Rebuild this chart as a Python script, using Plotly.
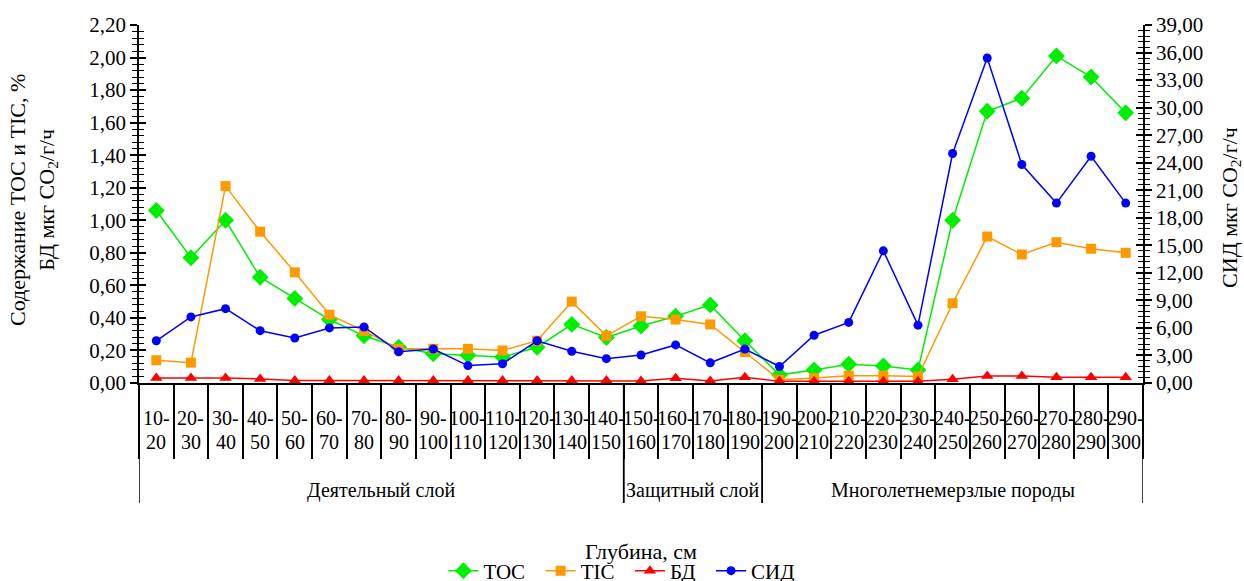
import plotly.graph_objects as go

categories = ["10-20", "20-30", "30-40", "40-50", "50-60", "60-70", "70-80", "80-90", "90-100",
              "100-110", "110-120", "120-130", "130-140", "140-150", "150-160", "160-170",
              "170-180", "180-190", "190-200", "200-210", "210-220", "220-230", "230-240",
              "240-250", "250-260", "260-270", "270-280", "280-290", "290-300"]

toc = [1.06, 0.77, 1.00, 0.65, 0.52, 0.39, 0.29, 0.22, 0.18, 0.17, 0.16, 0.22, 0.36, 0.28,
       0.35, 0.41, 0.48, 0.26, 0.05, 0.08, 0.115, 0.105, 0.08, 1.00, 1.67, 1.75, 2.01, 1.88, 1.66]
tic = [0.14, 0.125, 1.21, 0.93, 0.68, 0.42, 0.32, 0.21, 0.21, 0.21, 0.20, 0.26, 0.50, 0.29,
       0.41, 0.39, 0.36, 0.19, 0.02, 0.03, 0.045, 0.045, 0.04, 0.49, 0.90, 0.79, 0.865, 0.825, 0.80]
bd = [0.03, 0.03, 0.03, 0.025, 0.015, 0.015, 0.015, 0.015, 0.015, 0.015, 0.015, 0.015, 0.015, 0.015,
      0.013, 0.029, 0.013, 0.035, 0.01, 0.01, 0.01, 0.01, 0.01, 0.023, 0.043, 0.043, 0.035, 0.035, 0.035]
sid = [4.6, 7.2, 8.1, 5.7, 4.9, 6.0, 6.1, 3.4, 3.7, 1.9, 2.1, 4.6, 3.45, 2.65,
       3.05, 4.15, 2.2, 3.7, 1.8, 5.2, 6.6, 14.4, 6.3, 25.0, 35.4, 23.8, 19.6, 24.7, 19.6]

groups = [("Деятельный слой", 0, 13), ("Защитный слой", 14, 17), ("Многолетнемерзлые породы", 18, 28)]

FONT = "Liberation Serif"
BLACK = "#000000"
F = dict(family=FONT, size=20, color=BLACK)
FT = dict(family=FONT, size=21, color=BLACK)   # tick labels
FA = dict(family=FONT, size=22, color=BLACK)   # axis titles
FL = dict(family=FONT, size=21, color=BLACK)   # legend
PAD = "\u00a0\u00a0"

fig = go.Figure()
fig.add_trace(go.Scatter(x=categories, y=toc, name="TOC" + PAD, mode="lines+markers",
                         line=dict(color="#00EE00", width=1.5),
                         marker=dict(symbol="diamond", size=13, color="#00EE00")))
fig.add_trace(go.Scatter(x=categories, y=tic, name="TIC" + PAD, mode="lines+markers",
                         line=dict(color="#FF9900", width=1.5),
                         marker=dict(symbol="square", size=10, color="#FF9900")))
fig.add_trace(go.Scatter(x=categories, y=bd, name="БД" + PAD, mode="lines+markers",
                         line=dict(color="#FF0000", width=1.5),
                         marker=dict(symbol="triangle-up", size=11, color="#FF0000")))
fig.add_trace(go.Scatter(x=categories, y=sid, name="СИД", mode="lines+markers", yaxis="y2",
                         line=dict(color="#0000FF", width=1.5),
                         marker=dict(symbol="circle", size=9, color="#0000FF")))
# helper traces so the overlay tick axes are drawn
fig.add_trace(go.Scatter(x=categories, y=[None] * len(categories), yaxis="y3",
                         showlegend=False, hoverinfo="skip"))
fig.add_trace(go.Scatter(x=categories, y=[None] * len(categories), yaxis="y4",
                         showlegend=False, hoverinfo="skip"))

common_y = dict(showgrid=False, zeroline=False, showline=True, linecolor=BLACK, linewidth=1.5,
                tickcolor=BLACK, tickwidth=1.5, automargin=False, tickfont=FT)

fig.update_layout(
    width=1244, height=581,
    margin=dict(l=139, r=101, t=25, b=198, autoexpand=False),
    paper_bgcolor="white", plot_bgcolor="white",
    separators=", ",
    font=F,
    xaxis=dict(type="category", categoryorder="array", categoryarray=categories,
               range=[-0.5, len(categories) - 0.5], showgrid=False, zeroline=False,
               showline=True, linecolor=BLACK, linewidth=1.5, automargin=False,
               tickson="boundaries", ticks="outside", ticklen=74, tickcolor=BLACK, tickwidth=1.5,
               showticklabels=False),
    yaxis=dict(range=[0, 2.2], dtick=0.2, tickformat=".2f", ticks="outside", ticklen=7,
               minor=dict(dtick=0.04, ticks="outside", ticklen=5, tickcolor=BLACK, tickwidth=1.2),
               **common_y),
    yaxis3=dict(range=[0, 2.2], dtick=0.2, overlaying="y", side="left", ticks="inside", ticklen=7,
                showticklabels=False,
                minor=dict(dtick=0.04, ticks="inside", ticklen=5, tickcolor=BLACK, tickwidth=1.2),
                **common_y),
    yaxis2=dict(range=[0, 39], dtick=3, tickformat=".2f", overlaying="y", side="right",
                ticks="outside", ticklen=7,
                minor=dict(dtick=0.6, ticks="outside", ticklen=5, tickcolor=BLACK, tickwidth=1.2),
                **common_y),
    yaxis4=dict(range=[0, 39], dtick=3, overlaying="y", side="right", ticks="inside", ticklen=7,
                showticklabels=False,
                minor=dict(dtick=0.6, ticks="inside", ticklen=5, tickcolor=BLACK, tickwidth=1.2),
                **common_y),
    legend=dict(orientation="h", x=0.5, xref="container", xanchor="center",
                y=(581 - 571) / 581, yref="container", yanchor="middle",
                font=FL, bgcolor="rgba(0,0,0,0)", traceorder="normal"),
    showlegend=True,
)

PLOT_H = 358.0
def py(px_below):
    return -px_below / PLOT_H

annotations = []
for i, c in enumerate(categories):
    a, b = c.split("-")
    annotations.append(dict(x=i, y=py(35), xref="x", yref="paper", text=a + "-", showarrow=False,
                            xanchor="center", yanchor="middle", font=F))
    annotations.append(dict(x=i, y=py(59), xref="x", yref="paper", text=b, showarrow=False,
                            xanchor="center", yanchor="middle", font=F))

shapes = []
for name, i0, i1 in groups:
    annotations.append(dict(x=(i0 + i1) / 2, y=py(107), xref="x", yref="paper", text=name,
                            showarrow=False, xanchor="center", yanchor="middle", font=F))
    for xb in (i0 - 0.5, i1 + 0.5):
        shapes.append(dict(type="line", xref="x", yref="paper", x0=xb, x1=xb, y0=0, y1=py(120),
                           line=dict(color=BLACK, width=1.5)))

annotations.append(dict(x=0.5, y=py(168), xref="paper", yref="paper", text="Глубина, см",
                        showarrow=False, xanchor="center", yanchor="middle", font=FA))
annotations.append(dict(x=-0.105, y=0.51, xref="paper", yref="paper", textangle=-90,
                        text="Содержание ТОС и TIC, %<br>БД мкг CO<sub>2</sub>/г/ч",
                        showarrow=False, xanchor="center", yanchor="middle", font=FA))
annotations.append(dict(x=1.087, y=0.49, xref="paper", yref="paper", textangle=-90,
                        text="СИД мкг CO<sub>2</sub>/г/ч",
                        showarrow=False, xanchor="center", yanchor="middle", font=FA))

fig.update_layout(annotations=annotations, shapes=shapes)
fig.write_html("out.html")
